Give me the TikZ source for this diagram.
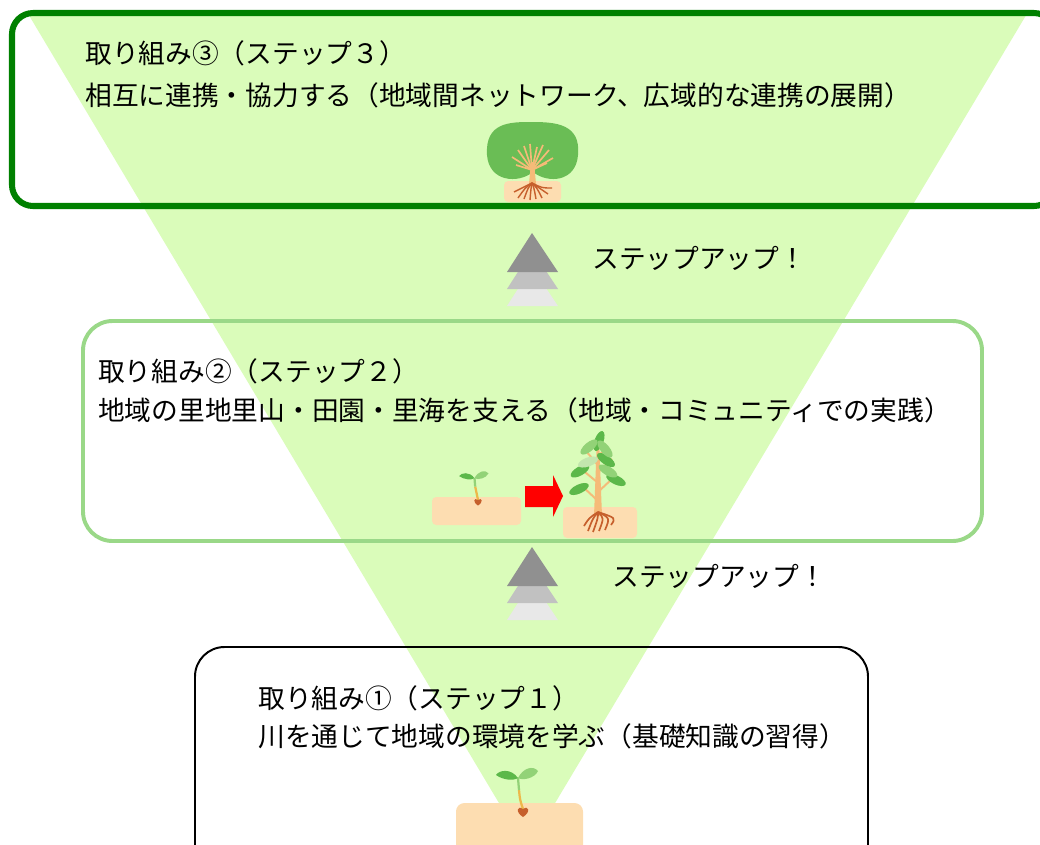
\documentclass[tikz,border=0pt]{standalone}
\usepackage{fontspec}
\setmainfont{Noto Sans CJK JP}
\definecolor{funnel}{HTML}{DAFCBA}
\definecolor{framethree}{HTML}{008000}
\definecolor{frametwo}{HTML}{9AD888}
\definecolor{soil}{HTML}{FDDDB1}
\definecolor{leafdark}{HTML}{5CB84A}
\definecolor{leaflight}{HTML}{92D277}
\definecolor{leafpale}{HTML}{C3E6AE}
\definecolor{canopy}{HTML}{6ABD55}
\definecolor{trunk}{HTML}{F5BB78}
\definecolor{stemgold}{HTML}{EDB84A}
\definecolor{root}{HTML}{C65F2C}
\def\stepnode{\node[anchor=west,inner sep=0pt,font=\fontsize{19pt}{23pt}\selectfont]}
\def\stepup#1{\foreach \tone/\dy in {gray!18/34,gray!49/17,gray!87/0}
  \fill[\tone] (532,#1+\dy) -- (558,#1+39+\dy) -- (507,#1+39+\dy) -- cycle;}
\def\sprout#1#2{\begin{scope}[shift={#1},scale=#2]
  \draw[line width=1.6pt,stemgold] (0,-3) .. controls (-3,-12) .. (-4,-22);
  \draw[line width=1.6pt,leaflight] (-4,-22) .. controls (-5,-28) .. (-5,-34);
  \fill[leafdark] (-5,-34) .. controls (-12,-44) and (-24,-42) .. (-27,-37) .. controls (-20,-32) and (-10,-31) .. (-5,-34);
  \fill[leaflight] (-5,-34) .. controls (0,-44) and (10,-47) .. (15,-41) .. controls (12,-34) and (0,-31) .. (-5,-34);
  \fill[root] (0,5) .. controls (-8,0) and (-6,-7) .. (0,-3) .. controls (6,-7) and (8,0) .. (0,5);
\end{scope}}

\begin{document}
\begin{tikzpicture}[x=0.025cm,y=-0.025cm,
  soilbed/.style={fill=soil,rounded corners=3pt}]
\useasboundingbox (0,0) rectangle (1040,844);
\fill[funnel] (27,12) -- (1028,12) -- (527,850) -- cycle;

\draw[framethree,line width=4.3pt,rounded corners=15pt] (12,13) rectangle (1055,206);
\draw[frametwo,line width=2.8pt,rounded corners=21pt] (83,321) rectangle (982,541);
\draw[black,line width=1.4pt,rounded corners=21pt] (195,647) rectangle (868,880);

% tree
\fill[soilbed] (504,181) rectangle (561,202);
\fill[canopy] (533,172) .. controls (518,184) and (489,182) .. (487,155)
  .. controls (485,122) and (510,122) .. (532,122)
  .. controls (556,122) and (581,124) .. (578,155)
  .. controls (576,182) and (548,184) .. (533,172) -- cycle;
\foreach \bx/\by in {512/157,516/165,518/150,524/146,530/144,537/147,543/145,549/150,553/158,547/163}
  \draw[trunk,line width=1.2pt] (532,170) -- (\bx,\by);
\fill[trunk] (529,184) -- (531,162) -- (534,162) -- (536,184) -- cycle;
\foreach \rx/\ry in {514/192,518/198,524/199,530/200,536/199,542/198,548/194,552/188}
  \draw[root,line width=1pt] (532,183) .. controls (\rx/2+266,188) .. (\rx,\ry);

% seedling, arrow and sapling
\fill[soilbed] (432,497) rectangle (521,525);
\sprout{(478,502)}{0.7}
\fill[red] (525,486) -- (553,486) -- (553,475) -- (563,496) -- (553,517) -- (553,507) -- (525,507) -- cycle;
\fill[soilbed] (563,507) rectangle (637,538);
\foreach \bx/\by/\ex/\ey in {597/500/582/486,597/482/580/468,597/464/586/451,598/492/613/478,598/472/612/459,598/456/608/447}
  \draw[trunk,line width=1.4pt] (\bx,\by) -- (\ex,\ey);
\fill[trunk] (594,516) -- (597,438) -- (599,438) -- (602,516) -- cycle;
\foreach \px/\py/\ang/\tone in {579/489/25/leafdark,616/480/-25/leafdark,580/471/30/leafdark,
  588/462/20/leafpale,608/471/-30/leaflight,606/460/-35/leafdark,599/441/70/leafdark,
  589/447/40/leaflight,605/449/-50/leaflight}
  \fill[\tone,rotate around={\ang:(\px,\py)}] (\px,\py) ellipse (10.5 and 4.5);
\foreach \rx/\ry in {584/526,588/531,593/532,599/531,605/530,611/525}
  \draw[root,line width=1.2pt] (598,512) .. controls (\rx+5,518) .. (\rx,\ry);

% first seedling
\fill[soilbed,rounded corners=6pt] (456,803) rectangle (583,860);
\sprout{(523,812)}{1}

\stepup{233}
\stepup{547}

\stepnode (s3a) at (85,53) {取り組み③（ステップ３）};
\stepnode (s3b) at (85,95) {相互に連携・協力する（地域間ネットワーク、広域的な連携の展開）};
\stepnode (s2a) at (98,371) {取り組み②（ステップ２）};
\stepnode (s2b) at (98,410) {地域の里地里山・田園・里海を支える（地域・コミュニティでの実践）};
\stepnode (s1a) at (258,698) {取り組み①（ステップ１）};
\stepnode (s1b) at (258,736) {川を通じて地域の環境を学ぶ（基礎知識の習得）};
\stepnode (up2) at (592,258) {ステップアップ！};
\stepnode (up1) at (612,576) {ステップアップ！};
\end{tikzpicture}
\end{document}
